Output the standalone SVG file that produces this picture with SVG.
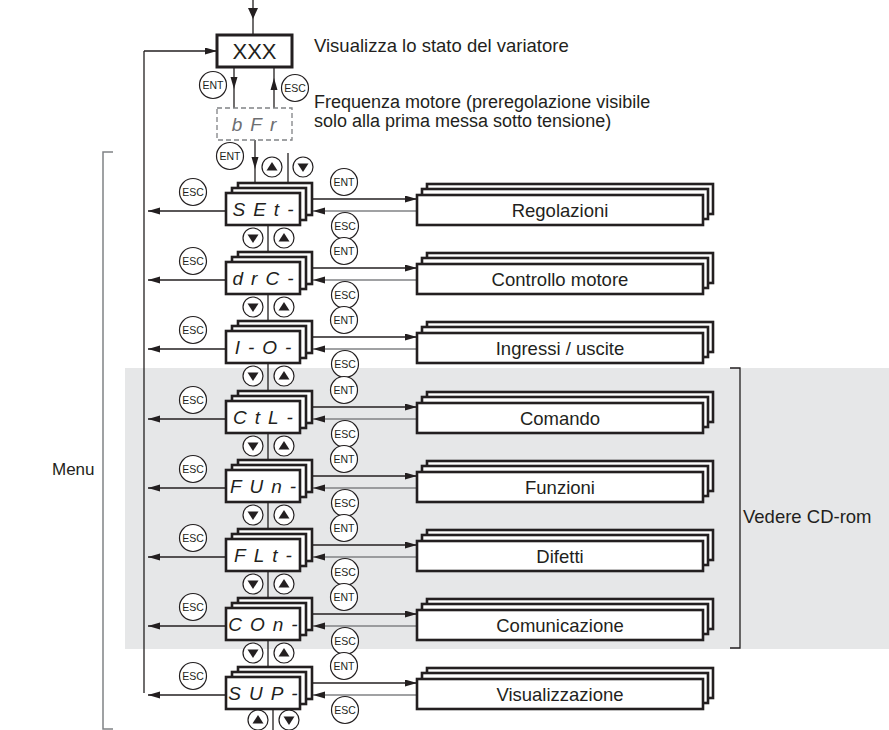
<svg xmlns="http://www.w3.org/2000/svg" width="889" height="730" viewBox="0 0 889 730">
<style>
.bx{fill:#fff;stroke:#231f20;stroke-width:2.6}
.seg{font-family:"Liberation Sans",Arial,sans-serif;font-style:italic;font-size:19px;letter-spacing:8px;fill:#231f20;text-anchor:middle}
.lbl{font-family:"Liberation Sans",Arial,sans-serif;font-size:18.5px;fill:#231f20}
.mid{text-anchor:middle}
.ln{stroke:#231f20;stroke-width:1.3;fill:none}
.gl{stroke:#808285;stroke-width:1.3;fill:none}
.ck{fill:#fff;stroke:#231f20;stroke-width:1.2}
.ct{font-family:"Liberation Sans",Arial,sans-serif;font-size:10.5px;fill:#231f20;text-anchor:middle}
</style>
<defs>
<marker id="ah" markerWidth="12" markerHeight="8" refX="12" refY="3.5" orient="auto" markerUnits="userSpaceOnUse"><path d="M0,0 L12,3.5 L0,7 z" fill="#231f20"/></marker>
<linearGradient id="gr" x1="0" x2="1" y1="0" y2="0"><stop offset="0" stop-color="#231f20"/><stop offset="1" stop-color="#8a8a8a"/></linearGradient>
<g id="ent"><circle r="13.5" class="ck"/><text y="3.7" class="ct">ENT</text></g>
<g id="esc"><circle r="13.5" class="ck"/><text y="3.7" class="ct">ESC</text></g>
<g id="up"><circle r="10" class="ck"/><path d="M-5.5,3.5 L5.5,3.5 L0,-5 z" fill="#231f20"/></g>
<g id="dn"><circle r="10" class="ck"/><path d="M-5.5,-3.5 L5.5,-3.5 L0,5 z" fill="#231f20"/></g>
<g id="disp"><rect x="238" y="-26" width="74" height="32" class="bx"/><rect x="232" y="-21" width="74" height="32" class="bx"/><rect x="226" y="-16" width="74" height="32" class="bx"/></g>
<g id="stk"><rect x="427" y="-25" width="286" height="30" class="bx"/><rect x="422" y="-20" width="286" height="30" class="bx"/><rect x="417" y="-14" width="286" height="30" class="bx"/></g>
</defs>
<rect x="125" y="368" width="764" height="281" fill="#e6e7e8"/>
<g id="connectors">
<line x1="253" y1="0" x2="253" y2="35" class="ln"/>
<path d="M248,8 L258,8 L253,19 z" fill="#231f20"/>
<line x1="144" y1="51" x2="144" y2="693" class="ln"/>
<line x1="144" y1="51" x2="217" y2="51" class="ln" marker-end="url(#ah)"/>
<line x1="234" y1="67" x2="234" y2="108" class="ln"/>
<path d="M230.5,77 L237.5,77 L234,89 z" fill="#231f20"/>
<line x1="274" y1="108" x2="274" y2="67" class="ln"/>
<path d="M270.5,90 L277.5,90 L274,78 z" fill="#231f20"/>
<line x1="255" y1="140" x2="255" y2="183" class="ln"/>
<path d="M251.5,157 L258.5,157 L255,169 z" fill="#231f20"/>
<line x1="288" y1="183" x2="288" y2="153" class="ln"/>
<line x1="288" y1="153" x2="889" y2="153" stroke="url(#gr)" stroke-width="1.3"/>
<polyline points="113,152 103,152 103,729 113,729" fill="none" stroke="#808285" stroke-width="1.5"/>
<polyline points="730,368 740,368 740,648 730,648" class="ln"/>
<line x1="273" y1="709" x2="273" y2="730" class="ln"/>
<g id="row-arrows">
<line x1="226" y1="211" x2="148" y2="211" class="ln" marker-end="url(#ah)"/><line x1="312" y1="199" x2="417" y2="199" class="ln" marker-end="url(#ah)"/><line x1="417" y1="211" x2="313" y2="211" class="gl" marker-end="url(#ah)"/><line x1="268" y1="225" x2="268" y2="252" class="ln"/>
<line x1="226" y1="280" x2="148" y2="280" class="ln" marker-end="url(#ah)"/><line x1="312" y1="268" x2="417" y2="268" class="ln" marker-end="url(#ah)"/><line x1="417" y1="280" x2="313" y2="280" class="gl" marker-end="url(#ah)"/><line x1="268" y1="294" x2="268" y2="321" class="ln"/>
<line x1="226" y1="349" x2="148" y2="349" class="ln" marker-end="url(#ah)"/><line x1="312" y1="337" x2="417" y2="337" class="ln" marker-end="url(#ah)"/><line x1="417" y1="349" x2="313" y2="349" class="gl" marker-end="url(#ah)"/><line x1="268" y1="363" x2="268" y2="391" class="ln"/>
<line x1="226" y1="419" x2="148" y2="419" class="ln" marker-end="url(#ah)"/><line x1="312" y1="407" x2="417" y2="407" class="ln" marker-end="url(#ah)"/><line x1="417" y1="419" x2="313" y2="419" class="gl" marker-end="url(#ah)"/><line x1="268" y1="433" x2="268" y2="460" class="ln"/>
<line x1="226" y1="488" x2="148" y2="488" class="ln" marker-end="url(#ah)"/><line x1="312" y1="476" x2="417" y2="476" class="ln" marker-end="url(#ah)"/><line x1="417" y1="488" x2="313" y2="488" class="gl" marker-end="url(#ah)"/><line x1="268" y1="502" x2="268" y2="529" class="ln"/>
<line x1="226" y1="557" x2="148" y2="557" class="ln" marker-end="url(#ah)"/><line x1="312" y1="545" x2="417" y2="545" class="ln" marker-end="url(#ah)"/><line x1="417" y1="557" x2="313" y2="557" class="gl" marker-end="url(#ah)"/><line x1="268" y1="571" x2="268" y2="598" class="ln"/>
<line x1="226" y1="626" x2="148" y2="626" class="ln" marker-end="url(#ah)"/><line x1="312" y1="614" x2="417" y2="614" class="ln" marker-end="url(#ah)"/><line x1="417" y1="626" x2="313" y2="626" class="gl" marker-end="url(#ah)"/><line x1="268" y1="640" x2="268" y2="667" class="ln"/>
<line x1="226" y1="695" x2="148" y2="695" class="ln" marker-end="url(#ah)"/><line x1="312" y1="683" x2="417" y2="683" class="ln" marker-end="url(#ah)"/><line x1="417" y1="695" x2="313" y2="695" class="gl" marker-end="url(#ah)"/>
</g>
<g id="key-labels">
<use href="#ent" x="213" y="85"/><use href="#esc" x="295" y="88"/>
<use href="#ent" x="230" y="156"/><use href="#up" x="272" y="167"/><use href="#dn" x="303" y="167"/>
<use href="#esc" x="193" y="192"/><use href="#ent" x="344" y="182"/><use href="#esc" x="345" y="226"/><use href="#dn" x="253" y="238"/><use href="#up" x="284" y="238"/>
<use href="#esc" x="193" y="261"/><use href="#ent" x="344" y="251"/><use href="#esc" x="345" y="295"/><use href="#dn" x="253" y="307"/><use href="#up" x="284" y="307"/>
<use href="#esc" x="193" y="330"/><use href="#ent" x="344" y="320"/><use href="#esc" x="345" y="364"/><use href="#dn" x="253" y="376"/><use href="#up" x="284" y="376"/>
<use href="#esc" x="193" y="400"/><use href="#ent" x="344" y="390"/><use href="#esc" x="345" y="434"/><use href="#dn" x="253" y="446"/><use href="#up" x="284" y="446"/>
<use href="#esc" x="193" y="469"/><use href="#ent" x="344" y="459"/><use href="#esc" x="345" y="503"/><use href="#dn" x="253" y="515"/><use href="#up" x="284" y="515"/>
<use href="#esc" x="193" y="538"/><use href="#ent" x="344" y="528"/><use href="#esc" x="345" y="572"/><use href="#dn" x="253" y="584"/><use href="#up" x="284" y="584"/>
<use href="#esc" x="193" y="607"/><use href="#ent" x="344" y="597"/><use href="#esc" x="345" y="641"/><use href="#dn" x="253" y="653"/><use href="#up" x="284" y="653"/>
<use href="#esc" x="193" y="676"/><use href="#ent" x="344" y="666"/><use href="#esc" x="345" y="710"/>
<use href="#up" x="258" y="720"/><use href="#dn" x="289" y="720"/>
</g>
</g>
<g id="n-xxx"><rect x="217" y="35" width="75" height="32" fill="#fff" stroke="#231f20" stroke-width="3"/><text x="254.5" y="59" class="lbl mid" style="font-size:22px">XXX</text></g>
<g id="n-bfr"><rect x="217" y="108" width="75" height="32" fill="#fff" stroke="#808285" stroke-width="1.3" stroke-dasharray="5,3"/><text x="258" y="131" class="seg" style="fill:#6d6e71">bFr</text></g>
<g id="n-set"><use href="#disp" y="209"/><text x="267" y="216" class="seg">SEt-</text></g>
<g id="n-drc"><use href="#disp" y="278"/><text x="267" y="285" class="seg">drC-</text></g>
<g id="n-io"><use href="#disp" y="347"/><text x="267" y="354" class="seg">I-O-</text></g>
<g id="n-ctl"><use href="#disp" y="417"/><text x="267" y="424" class="seg">CtL-</text></g>
<g id="n-fun"><use href="#disp" y="486"/><text x="267" y="493" class="seg">FUn-</text></g>
<g id="n-flt"><use href="#disp" y="555"/><text x="267" y="562" class="seg">FLt-</text></g>
<g id="n-con"><use href="#disp" y="624"/><text x="267" y="631" class="seg">COn-</text></g>
<g id="n-sup"><use href="#disp" y="693"/><text x="267" y="700" class="seg">SUP-</text></g>
<g id="m-set"><use href="#stk" y="209"/><text x="560" y="216.5" class="lbl mid">Regolazioni</text></g>
<g id="m-drc"><use href="#stk" y="278"/><text x="560" y="285.5" class="lbl mid">Controllo motore</text></g>
<g id="m-io"><use href="#stk" y="347"/><text x="560" y="354.5" class="lbl mid">Ingressi / uscite</text></g>
<g id="m-ctl"><use href="#stk" y="417"/><text x="560" y="424.5" class="lbl mid">Comando</text></g>
<g id="m-fun"><use href="#stk" y="486"/><text x="560" y="493.5" class="lbl mid">Funzioni</text></g>
<g id="m-flt"><use href="#stk" y="555"/><text x="560" y="562.5" class="lbl mid">Difetti</text></g>
<g id="m-con"><use href="#stk" y="624"/><text x="560" y="631.5" class="lbl mid">Comunicazione</text></g>
<g id="m-sup"><use href="#stk" y="693"/><text x="560" y="700.5" class="lbl mid">Visualizzazione</text></g>
<g id="texts">
<text x="314" y="52" class="lbl">Visualizza lo stato del variatore</text>
<text x="314" y="108" class="lbl" style="font-size:18px">Frequenza motore (preregolazione visibile</text>
<text x="314" y="127" class="lbl" style="font-size:18px">solo alla prima messa sotto tensione)</text>
<text x="52" y="475" class="lbl" style="font-size:17px">Menu</text>
<text x="743" y="523" class="lbl">Vedere CD-rom</text>
</g>
</svg>
